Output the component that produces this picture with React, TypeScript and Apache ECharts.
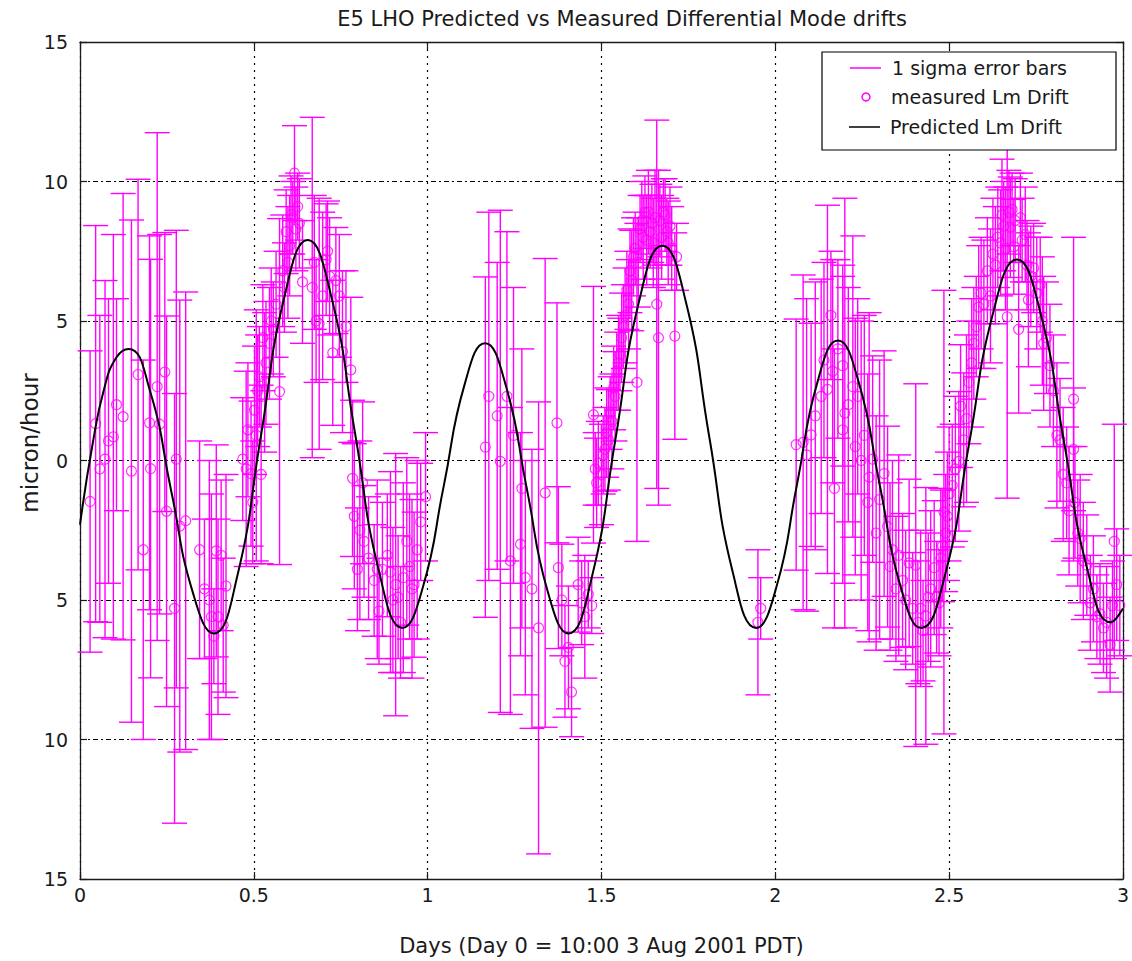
import React, { useEffect, useRef } from "react";
import * as echarts from "echarts";

// ---------- data ----------
const xTicks = [0, 0.5, 1, 1.5, 2, 2.5, 3];
const yTicks = [-15, -10, -5, 0, 5, 10, 15];

// Predicted Lm drift (days, micron/hour)
const predDays = [
  0, 0.035, 0.07, 0.105, 0.14, 0.201, 0.2625, 0.324, 0.385, 0.4525, 0.52, 0.5875, 0.655,
  0.723, 0.7915, 0.86, 0.928, 0.987, 1.0465, 1.106, 1.165, 1.225, 1.285, 1.345, 1.405,
  1.4725, 1.54, 1.6075, 1.675, 1.7425, 1.81, 1.8775, 1.945, 2.004, 2.0625, 2.121, 2.18,
  2.24, 2.3, 2.36, 2.42, 2.489, 2.5575, 2.626, 2.695, 2.7625, 2.83, 2.8975, 2.965, 3.0,
];
const predDrift = [
  -2.3, 0.5, 2.6, 3.7, 4.0, 2.51, -1.1, -4.71, -6.2, -4.14, 0.85, 5.84, 7.9,
  5.87, 0.95, -3.97, -6.0, -4.51, -0.9, 2.71, 4.2, 2.68, -1.0, -4.68, -6.2,
  -4.17, 0.75, 5.67, 7.7, 5.7, 0.85, -4.0, -6.0, -4.5, -0.85, 2.8, 4.3,
  2.8, -0.85, -4.5, -6.0, -4.07, 0.6, 5.27, 7.2, 5.3, 0.7, -3.9, -5.8, -5.3,
];

// Measured Lm drift with 1 sigma errors
const measDays = [
  0.029, 0.045, 0.057, 0.072, 0.082, 0.096, 0.105, 0.124, 0.148, 0.167, 0.182, 0.2, 0.203, 0.222, 0.229, 0.244, 0.249, 0.272, 0.277, 0.287, 0.304,
  0.344, 0.358, 0.372, 0.378, 0.385, 0.392, 0.397, 0.406, 0.412, 0.42,
  0.468, 0.478, 0.483, 0.492, 0.497, 0.502, 0.507, 0.511, 0.516, 0.521, 0.526, 0.531, 0.535, 0.545, 0.55, 0.556, 0.564, 0.574, 0.583, 0.588,
  0.593, 0.598, 0.603, 0.607, 0.612, 0.617, 0.621, 0.626, 0.631, 0.64, 0.668, 0.674, 0.679, 0.688, 0.698, 0.708, 0.712, 0.718, 0.727, 0.736,
  0.746, 0.755, 0.765, 0.779, 0.784, 0.789, 0.798, 0.805,
  0.813, 0.817, 0.83, 0.846, 0.855, 0.86, 0.87, 0.884, 0.893, 0.9, 0.908, 0.915, 0.922, 0.93, 0.94, 0.948, 0.955, 0.961, 0.97, 0.98, 0.994,
  1.166, 1.176, 1.2, 1.209, 1.228, 1.238, 1.247, 1.267, 1.271, 1.281, 1.3, 1.319, 1.338, 1.372, 1.376, 1.386, 1.395, 1.405, 1.414, 1.433,
  1.443, 1.452, 1.462, 1.472, 1.477, 1.482, 1.486, 1.491, 1.5, 1.505, 1.51, 1.515, 1.52, 1.525, 1.53, 1.535, 1.539, 1.544, 1.549, 1.553,
  1.558, 1.563, 1.568, 1.573, 1.578, 1.582, 1.587, 1.592, 1.597, 1.602, 1.606, 1.611, 1.616, 1.62, 1.625, 1.63, 1.635, 1.64, 1.645, 1.649,
  1.654, 1.659, 1.664, 1.668, 1.673, 1.678, 1.683, 1.688, 1.692, 1.697, 1.702, 1.711, 1.716,
  1.95, 1.958,
  2.06, 2.08, 2.09, 2.103, 2.115, 2.132, 2.14, 2.15, 2.16, 2.165, 2.17, 2.18, 2.194, 2.194, 2.2, 2.21, 2.223, 2.23, 2.237, 2.247,
  2.256, 2.266, 2.27, 2.28, 2.29, 2.3, 2.313, 2.323, 2.33, 2.337, 2.347, 2.355, 2.366, 2.375, 2.385, 2.395, 2.404, 2.41, 2.418, 2.425,
  2.433, 2.44, 2.447, 2.457, 2.464, 2.471, 2.476, 2.481, 2.485, 2.49, 2.495, 2.5, 2.509, 2.518, 2.528, 2.533, 2.542, 2.55, 2.557, 2.565,
  2.571, 2.578, 2.585, 2.592, 2.6, 2.61, 2.619, 2.626, 2.633, 2.64, 2.648, 2.652, 2.657, 2.662, 2.667, 2.672, 2.676, 2.681, 2.686, 2.69,
  2.7, 2.705, 2.71, 2.719, 2.724, 2.728, 2.735, 2.743, 2.752, 2.762, 2.768, 2.772, 2.78, 2.79, 2.8, 2.81, 2.819, 2.828, 2.838, 2.845,
  2.858, 2.858, 2.862, 2.87, 2.877, 2.886, 2.896, 2.906, 2.915, 2.925, 2.934, 2.944, 2.953, 2.963, 2.97, 2.975, 2.982, 2.991,
];
const measDrift = [
  -1.47, 1.32, -0.3, 0.05, 0.7, 0.85, 2.0, 1.57, -0.38, 3.08, -3.2, 1.35, -0.29, 2.65, 1.3, 3.17, -1.82, -5.3, 0.05, -2.35, -2.16,
  -3.2, -4.6, -5.0, -5.6, -6.3, -3.24, -5.6, -3.4, -5.9, -4.5,
  0.05, -0.3, 1.1, -0.47, -1.5, 1.8, 0.9, 2.5, 3.0, -0.5, 4.4, 2.8, 3.5, 4.2, 5.0, 4.7, 5.6, 2.47, 6.8, 6.2,
  8.2, 7.1, 7.7, 8.8, 8.7, 10.3, 8.3, 9.1, 8.5, 6.4, 6.2, 7.1, 5.0, 4.9, 5.9, 7.2, 7.5, 6.6, 3.86, 6.45,
  5.9, 3.9, 4.8, 3.25, -0.64, -2.0, -3.9, -2.5,
  -0.8, -2.9, -3.5, -4.3, -3.9, -5.4, -3.9, -3.4, -4.0, -5.0, -4.45, -4.9, -5.8, -4.2, -2.9, -3.8, -4.6, -4.45, -3.2, -2.2, -1.3,
  0.48, 2.3, 1.6, -0.03, 2.3, -3.6, 0.9, -3.0, -1.0, -4.2, -4.6, -6.0, -1.16, 1.35, -3.84, -5.0, -7.2, -6.7, -8.3, -4.45,
  -5.1, -5.6, -4.8, -5.2, 1.64, -0.3, -0.8, -0.1, -0.5, 0.2, 0.4, 1.0, 0.74, 1.7, 1.4, 2.6, 2.3, 3.2, 3.5, 3.8,
  4.4, 4.8, 5.2, 6.1, 5.6, 6.8, 6.45, 7.3, 7.6, 2.8, 7.1, 8.3, 8.6, 8.0, 8.9, 7.9, 8.9, 8.2, 8.5, 7.8,
  8.7, 5.6, 4.4, 8.6, 8.0, 8.9, 8.8, 8.2, 7.8, 8.4, 7.6, 4.46, 7.3,
  -5.8, -5.3,
  0.57, 0.65, 0.2, 0.92, 1.6, 2.3, 3.6, 2.55, 5.2, 3.2, -1.0, 4.0, 3.4, 1.1, 1.7, 2.0, 2.65, 0.5, 2.3, 0.0,
  0.9, -1.5, -0.6, 0.05, -2.6, -1.4, -0.47, -2.37, -3.8, -3.2, -4.6, -3.4, -4.3, -5.0, -3.67, -5.3, -3.75, -5.8, -5.3, -6.1,
  -5.57, -4.9, -4.6, -3.84, -4.9, -5.1, -3.5, -3.06, -1.85, -2.6, -2.0, -1.2, -0.9, -0.3, -0.03, 1.95, 0.74, 1.5, 2.8, 3.5,
  4.2, 4.8, 5.5, 6.0, 5.6, 6.8, 5.9, 7.4, 7.0, 8.0, 7.8, 8.8, 8.4, 7.6, 5.15, 8.9, 8.36, 9.0, 7.66, 8.6,
  4.7, 8.7, 7.9, 8.1, 7.0, 5.76, 6.6, 6.9, 6.0, 6.3, 5.0, 4.2, 4.4, 3.4, 2.5, 0.9, 0.74, -0.5, -0.8, -1.8,
  0.4, 2.2, -1.5, -2.6, -2.8, -3.6, -3.75, -5.1, -4.6, -5.6, -5.5, -6.0, -5.8, -6.6, -5.2, -2.9, -4.45, -5.2,
];
const measSigma = [
  5.4, 7.1, 5.5, 6.4, 5.1, 7.25, 3.8, 8.0, 9.0, 7.0, 6.8, 6.7, 7.5, 9.1, 6.8, 5.0, 7.0, 7.7, 8.2, 8.1, 8.2,
  3.9, 2.5, 5.0, 4.4, 1.7, 3.8, 3.5, 2.7, 2.4, 4.0,
  2.2, 3.5, 2.4, 2.6, 2.2, 2.3, 4.5, 2.0, 1.8, 3.2, 1.9, 2.5, 2.2, 2.0, 1.9, 1.7, 1.9, 6.2, 2.0, 1.6,
  1.5, 2.0, 1.8, 1.4, 1.3, 1.7, 1.5, 1.2, 1.6, 2.2, 6.1, 2.4, 2.2, 4.5, 3.0, 2.0, 1.8, 2.1, 2.6, 1.9,
  2.2, 2.9, 2.0, 2.6, 2.8, 2.6, 2.2, 3.2,
  2.9, 2.0, 2.2, 2.0, 3.2, 1.9, 2.4, 2.2, 3.6, 2.6, 4.7, 2.2, 2.0, 3.4, 3.0, 2.6, 3.2, 2.6, 3.2, 2.1, 2.3,
  6.1, 6.6, 5.5, 9.0, 5.9, 5.5, 5.3, 4.0, 5.0, 4.2, 5.0, 8.1, 8.4, 4.3, 2.9, 2.0, 2.0, 2.2, 1.6, 1.7,
  1.5, 2.2, 1.2, 1.0, 4.6, 1.3, 1.6, 1.5, 1.8, 1.4, 1.5, 1.6, 1.8, 1.3, 1.7, 1.5, 1.6, 1.4, 1.7, 1.3,
  1.6, 1.5, 1.7, 1.4, 1.6, 1.5, 1.8, 1.4, 1.3, 5.7, 1.6, 1.2, 1.4, 1.5, 1.3, 1.6, 1.5, 1.3, 1.4, 1.6,
  1.7, 6.6, 6.0, 1.3, 1.5, 1.2, 1.3, 1.2, 1.5, 1.4, 1.5, 3.7, 1.2,
  2.6, 1.1,
  4.5, 6.0, 5.6, 4.0, 4.8, 4.2, 3.5, 6.6, 2.3, 4.0, 5.0, 3.2, 3.6, 5.5, 7.7, 4.2, 5.4, 4.6, 3.5, 5.0,
  4.3, 4.6, 5.9, 3.7, 4.2, 5.0, 4.4, 3.6, 3.0, 3.2, 2.6, 3.6, 2.4, 2.5, 3.0, 2.0, 6.5, 2.2, 2.8, 1.8,
  4.6, 2.3, 2.8, 2.4, 2.0, 1.9, 2.5, 2.0, 7.95, 2.1, 2.3, 2.4, 2.2, 2.6, 2.5, 2.2, 2.4, 3.0, 2.2, 2.3,
  2.0, 1.8, 2.2, 2.0, 2.3, 1.9, 2.4, 2.0, 2.1, 1.8, 1.9, 2.0, 1.6, 2.2, 6.5, 1.5, 1.8, 1.3, 1.7, 1.5,
  3.0, 1.6, 1.5, 1.7, 1.6, 2.4, 1.8, 1.6, 2.0, 1.7, 2.3, 2.4, 2.0, 2.2, 2.0, 2.6, 2.2, 2.4, 2.0, 2.3,
  2.2, 5.8, 2.0, 1.9, 2.3, 2.1, 1.8, 1.7, 1.9, 1.5, 1.8, 1.6, 2.0, 1.7, 1.6, 4.2, 2.0, 1.8,
];

const legendLabels = ["1 sigma error bars", "measured Lm Drift", "Predicted Lm Drift"];
const titleText = "E5 LHO Predicted vs Measured Differential Mode drifts";
const xName = "Days (Day 0 = 10:00 3 Aug 2001 PDT)";
const yName = "micron/hour";

// ---------- styling ----------
const FONT = "'DejaVu Sans', 'Noto Sans', sans-serif";
const MAGENTA = "#ff00ff";
const INK = "#1a1a1a";

export default function App() {
  const ref = useRef<HTMLDivElement>(null);

  useEffect(() => {
    document.body.style.margin = "0";
    if (!ref.current) return;
    const chart = echarts.init(ref.current, null, { renderer: "svg" });

    const measData = measDays.map((d, i) => [d, measDrift[i], measSigma[i]]);
    const predData = predDays.map((d, i) => [d, predDrift[i]]);

    const xMin = xTicks[0];
    const xMax = xTicks[xTicks.length - 1];
    const xInt = xTicks[1] - xTicks[0];
    const yMin = yTicks[0];
    const yMax = yTicks[yTicks.length - 1];
    const yInt = yTicks[1] - yTicks[0];

    const axisLine = { show: true, onZero: false, lineStyle: { color: INK, width: 1.3 } };
    const tick = { show: true, inside: true, length: 7, lineStyle: { color: INK, width: 1.2 } };

    const option: any = {
      animation: false,
      backgroundColor: "#ffffff",
      grid: { left: 80, right: 6, top: 42, bottom: 81, containLabel: false },
      xAxis: [
        {
          type: "value",
          min: xMin,
          max: xMax,
          interval: xInt,
          position: "bottom",
          name: xName,
          nameLocation: "middle",
          nameGap: 56,
          nameTextStyle: { fontFamily: FONT, fontSize: 21, color: INK },
          axisLine,
          axisTick: tick,
          axisLabel: {
            fontFamily: FONT,
            fontSize: 19,
            color: INK,
            margin: 6,
            formatter: (v: number) => String(v),
          },
          splitLine: { show: true, lineStyle: { color: "#000", width: 1.2, type: [2, 5] } },
        },
        {
          type: "value",
          min: xMin,
          max: xMax,
          interval: xInt,
          position: "top",
          axisLine,
          axisTick: tick,
          axisLabel: { show: false },
          splitLine: { show: false },
        },
      ],
      yAxis: [
        {
          type: "value",
          min: yMin,
          max: yMax,
          interval: yInt,
          position: "left",
          axisLine,
          axisTick: tick,
          axisLabel: {
            fontFamily: FONT,
            fontSize: 19,
            color: INK,
            margin: 12,
            formatter: (v: number) => String(Math.abs(v)),
          },
          splitLine: { show: true, lineStyle: { color: "#000", width: 1.2, type: [5, 3, 2, 3] } },
        },
        {
          type: "value",
          min: yMin,
          max: yMax,
          interval: yInt,
          position: "right",
          axisLine,
          axisTick: tick,
          axisLabel: { show: false },
          splitLine: { show: false },
        },
      ],
      series: [
        {
          name: legendLabels[0],
          type: "custom",
          xAxisIndex: 0,
          yAxisIndex: 0,
          data: measData,
          encode: { x: 0, y: 1 },
          z: 2,
          renderItem: (params: any, api: any) => {
            const x = api.value(0);
            const y = api.value(1);
            const e = api.value(2);
            const top = api.coord([x, y + e]);
            const bot = api.coord([x, y - e]);
            const hw = 12.5;
            const st = { stroke: MAGENTA, lineWidth: 1.4, fill: "none" };
            return {
              type: "group",
              children: [
                { type: "line", shape: { x1: top[0], y1: top[1], x2: bot[0], y2: bot[1] }, style: st },
                { type: "line", shape: { x1: top[0] - hw, y1: top[1], x2: top[0] + hw, y2: top[1] }, style: st },
                { type: "line", shape: { x1: bot[0] - hw, y1: bot[1], x2: bot[0] + hw, y2: bot[1] }, style: st },
              ],
            };
          },
        },
        {
          name: legendLabels[1],
          type: "scatter",
          xAxisIndex: 0,
          yAxisIndex: 0,
          data: measData.map((r) => [r[0], r[1]]),
          symbol: "circle",
          symbolSize: 10,
          z: 3,
          itemStyle: { color: "rgba(255,255,255,0)", borderColor: MAGENTA, borderWidth: 1.2 },
        },
        {
          name: legendLabels[2],
          type: "line",
          xAxisIndex: 0,
          yAxisIndex: 0,
          data: predData,
          smooth: 0.5,
          showSymbol: false,
          symbol: "none",
          z: 4,
          lineStyle: { color: "#000", width: 2 },
        },
      ],
      graphic: [
        {
          type: "text",
          x: 622,
          y: 19,
          z: 10,
          style: {
            text: titleText,
            align: "center",
            verticalAlign: "middle",
            fontFamily: FONT,
            fontSize: 21,
            fill: INK,
          },
        },
        {
          type: "text",
          x: 30,
          y: 443,
          rotation: Math.PI / 2,
          z: 10,
          style: {
            text: yName,
            align: "center",
            verticalAlign: "middle",
            fontFamily: FONT,
            fontSize: 23,
            fill: INK,
          },
        },
        {
          type: "group",
          z: 100,
          children: [
            {
              type: "rect",
              shape: { x: 822, y: 52, width: 294, height: 98 },
              style: { fill: "#ffffff", stroke: "#000", lineWidth: 1.2 },
              z: 100,
            },
            {
              type: "line",
              shape: { x1: 850, y1: 68, x2: 881, y2: 68 },
              style: { stroke: MAGENTA, lineWidth: 1.5 },
              z: 101,
            },
            {
              type: "circle",
              shape: { cx: 866, cy: 97, r: 4 },
              style: { fill: "none", stroke: MAGENTA, lineWidth: 1.5 },
              z: 101,
            },
            {
              type: "line",
              shape: { x1: 849, y1: 127, x2: 880, y2: 127 },
              style: { stroke: "#000", lineWidth: 1.5 },
              z: 101,
            },
            {
              type: "text",
              x: 892,
              y: 68,
              z: 101,
              style: { text: legendLabels[0], verticalAlign: "middle", fontFamily: FONT, fontSize: 19, fill: INK },
            },
            {
              type: "text",
              x: 891,
              y: 97,
              z: 101,
              style: { text: legendLabels[1], verticalAlign: "middle", fontFamily: FONT, fontSize: 19, fill: INK },
            },
            {
              type: "text",
              x: 890,
              y: 127,
              z: 101,
              style: { text: legendLabels[2], verticalAlign: "middle", fontFamily: FONT, fontSize: 19, fill: INK },
            },
          ],
        },
      ],
    };

    chart.setOption(option);
    return () => {
      chart.dispose();
    };
  }, []);

  return <div ref={ref} style={{ width: 1132, height: 961 }} />;
}
